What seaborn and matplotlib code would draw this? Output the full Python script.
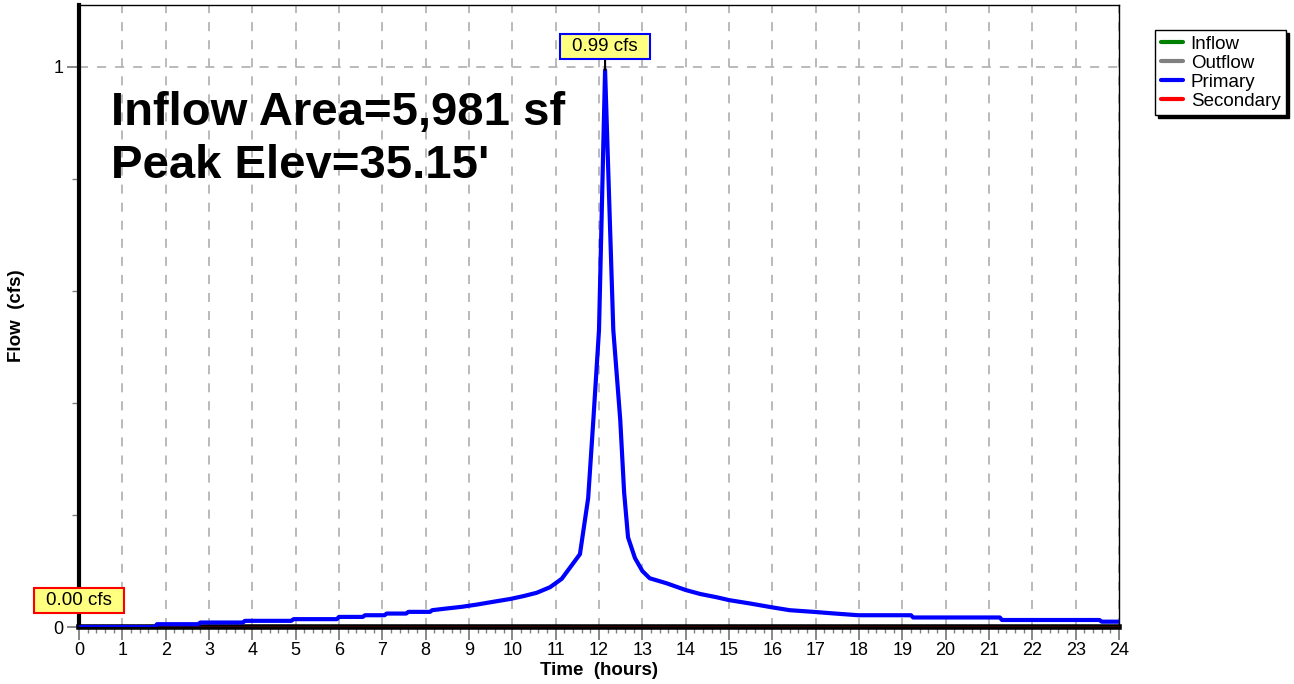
import numpy as np
import pandas as pd
import seaborn as sns
from matplotlib import pyplot as plt
from matplotlib.lines import Line2D
from matplotlib.path import Path
from matplotlib.ticker import MultipleLocator
sns.set_style('white')
plt.rcParams['font.family'] = ['Liberation Sans', 'DejaVu Sans']
plt.rcParams['text.color'] = 'black'
plt.rcParams['axes.labelcolor'] = 'black'
plt.rcParams['xtick.labelcolor'] = 'black'
plt.rcParams['ytick.labelcolor'] = 'black'

# primary outflow hydrograph
hours = [0, 1.75, 1.8, 2.75, 2.8, 3.78, 3.83, 4.9, 4.95, 5.95, 6.0, 6.55, 6.6, 7.05, 7.1,
         7.55, 7.6, 8.1, 8.15, 8.48, 8.83, 9.18, 9.56, 9.95, 10.25, 10.56, 10.87, 11.14,
         11.56, 11.75, 11.87, 12.0, 12.14, 12.33, 12.49, 12.58, 12.67, 12.83, 13.0, 13.17,
         13.56, 14.0, 14.33, 14.72, 15.0, 15.48, 16.0, 16.4, 16.95, 17.45, 17.98, 19.2,
         19.25, 21.25, 21.3, 23.55, 23.6, 24.0]
primary = [0, 0, 0.005, 0.005, 0.008, 0.008, 0.011, 0.011, 0.014, 0.014, 0.018, 0.018, 0.021,
           0.021, 0.024, 0.024, 0.027, 0.027, 0.030, 0.033, 0.036, 0.040, 0.045, 0.050, 0.055,
           0.061, 0.071, 0.086, 0.13, 0.23, 0.37, 0.53, 0.994, 0.53, 0.37, 0.24, 0.16, 0.123,
           0.10, 0.087, 0.078, 0.066, 0.059, 0.053, 0.048, 0.042, 0.035, 0.030, 0.027, 0.024,
           0.021, 0.021, 0.017, 0.017, 0.0125, 0.0125, 0.0095, 0.0095]
sec_hours = [0, 24]
secondary = [0.0, 0.0]

series_names = ['Inflow', 'Outflow', 'Primary', 'Secondary']
series_colors = ['#008000', '#808080', '#0000ff', '#ff0000']
note_lines = ['Inflow Area=5,981 sf', "Peak Elev=35.15'"]

prim_df = pd.DataFrame({'Time': hours, 'Flow': primary})
sec_df = pd.DataFrame({'Time': sec_hours, 'Flow': secondary})


def label_box(x0, y0, width, height, mutation_size):
    # wide, flat box like the hydrocad peak labels
    px = 0.64 * mutation_size
    py = 0.21 * mutation_size
    x0, y0 = x0 - px, y0 - py
    x1, y1 = x0 + width + 2 * px, y0 + height + 2 * py
    return Path([(x0, y0), (x1, y0), (x1, y1), (x0, y1), (x0, y0)], closed=True)


fig = plt.figure(figsize=(12.94, 6.84), dpi=100)
ax = fig.add_axes([79/1294, 57/684, 1040/1294, 622/684])
ax.set_axisbelow(True)
ax.grid(True, which='major', color='#b4b4b4', linestyle=(0, (5, 5)), linewidth=1.3)

sns.lineplot(x='Time', y='Flow', data=sec_df, ax=ax, color=series_colors[3], lw=1, zorder=3)
sns.lineplot(x='Time', y='Flow', data=prim_df, ax=ax, color=series_colors[2], lw=3, zorder=4)

ax.set_xlim(0, 24)
ax.set_ylim(0, 1.11)
ax.set_xticks(range(25))
ax.xaxis.set_minor_locator(MultipleLocator(0.2))
ax.set_yticks([0, 1])
ax.set_yticklabels(['0', '1'])
ax.yaxis.set_minor_locator(MultipleLocator(0.2))
ax.tick_params(which='major', direction='out', length=9, width=1.3, color='#808080',
               labelsize=13, pad=2, left=True, bottom=True)
ax.tick_params(which='minor', direction='out', length=5, width=1, color='#808080',
               left=True, bottom=True)
ax.tick_params(axis='x', which='minor', length=4)

for side in ['top', 'right']:
    ax.spines[side].set_color('black')
    ax.spines[side].set_linewidth(1)
ax.spines['bottom'].set_color('black')
ax.spines['bottom'].set_linewidth(4)
ax.spines['left'].set_color('black')
ax.spines['left'].set_linewidth(3)

ax.set_xlabel('Time  (hours)', fontsize=13.5, fontweight='bold', labelpad=2)
ax.set_ylabel('Flow  (cfs)', fontsize=13.5, fontweight='bold')
ax.yaxis.set_label_coords(-0.052, 0.5)

ax.text(0.031, 0.807, note_lines[0], transform=ax.transAxes, fontsize=34,
        fontweight='bold', va='baseline', zorder=5)
ax.text(0.031, 0.722, note_lines[1], transform=ax.transAxes, fontsize=34,
        fontweight='bold', va='baseline', zorder=5)

# peak labels
pk = int(np.argmax(primary))
ax.annotate(f'{primary[pk]:.2f} cfs', xy=(hours[pk], primary[pk]), xytext=(0, 11),
            textcoords='offset points', ha='center', va='bottom', fontsize=13.5,
            bbox=dict(boxstyle=label_box, fc='#ffff80', ec=series_colors[2], lw=1.5),
            arrowprops=dict(arrowstyle='-', color='black', lw=1.5, shrinkA=0, shrinkB=0),
            zorder=6, annotation_clip=False)
sk = int(np.argmax(secondary))
ax.annotate(f'{secondary[sk]:.2f} cfs', xy=(sec_hours[sk], secondary[sk]), xytext=(0, 13),
            textcoords='offset points', ha='center', va='bottom', fontsize=13.5,
            bbox=dict(boxstyle=label_box, fc='#ffff80', ec=series_colors[3], lw=1.5),
            zorder=6, annotation_clip=False)

handles = [Line2D([], [], color=c, lw=3) for c in series_colors]
fig.legend(handles, series_names, loc='upper left', bbox_to_anchor=(1155/1294, 1 - 30/684),
           frameon=True, fancybox=False, edgecolor='black', framealpha=1,
           shadow={'color': 'black', 'alpha': 1}, fontsize=13.5, handlelength=1.2,
           handletextpad=0.4, borderpad=0.3, labelspacing=0.1, borderaxespad=0)

fig.savefig('out.png', dpi=100)
